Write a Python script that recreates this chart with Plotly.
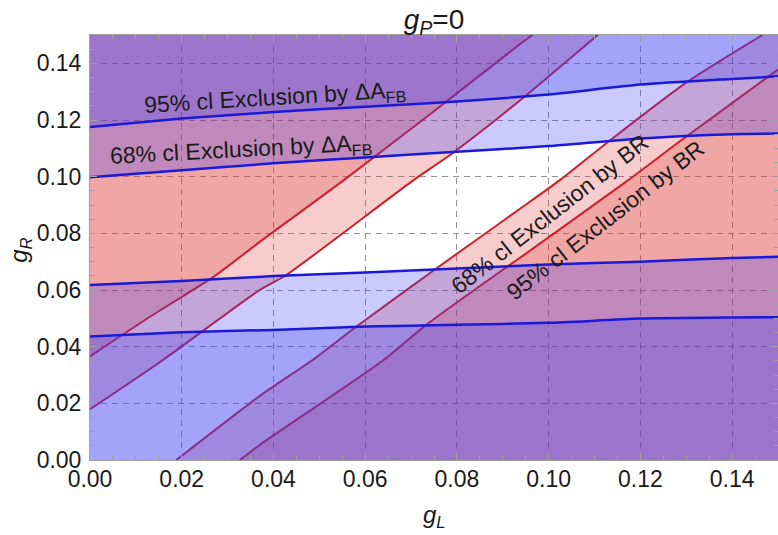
import plotly.graph_objects as go

# g_L sample points used for the A_FB contours
gl_afb = [0.0, 0.02, 0.04, 0.06, 0.08, 0.10, 0.12, 0.14, 0.15]

# Delta A_FB exclusion contours (g_R as a function of g_L)
afb95_upper = [0.1175, 0.1205, 0.1228, 0.1247, 0.1265, 0.1290, 0.1325, 0.1345, 0.1354]
afb68_upper = [0.0998, 0.1023, 0.1047, 0.1068, 0.1088, 0.1108, 0.1135, 0.1150, 0.1152]
afb68_lower = [0.0618, 0.0632, 0.0649, 0.0662, 0.0676, 0.0690, 0.0700, 0.0713, 0.0717]
afb95_lower = [0.0436, 0.0451, 0.0459, 0.0471, 0.0477, 0.0484, 0.0499, 0.0503, 0.0504]

# BR exclusion contours as (g_L, g_R) point lists
br95_upper_gl = [0.0, 0.0135, 0.027, 0.037, 0.0552, 0.0745, 0.0936, 0.0965]
br95_upper_gr = [0.0366, 0.0510, 0.0647, 0.0770, 0.0986, 0.1225, 0.1466, 0.15]

br68_upper_gl = [0.0, 0.016, 0.037, 0.0428, 0.0704, 0.0788, 0.0936, 0.1107]
br68_upper_gr = [0.0179, 0.0354, 0.0600, 0.0653, 0.0986, 0.1080, 0.1267, 0.15]

br68_lower_gl = [0.0188, 0.037, 0.0486, 0.0581, 0.0755, 0.0936, 0.1023, 0.1132, 0.1299, 0.1466]
br68_lower_gr = [0.0, 0.0226, 0.0354, 0.0471, 0.0676, 0.0885, 0.0986, 0.1126, 0.1331, 0.15]

br95_lower_gl = [0.0327, 0.037, 0.0641, 0.0733, 0.0911, 0.0936, 0.1172, 0.1292, 0.15]
br95_lower_gr = [0.0, 0.0053, 0.0354, 0.0477, 0.0684, 0.0712, 0.0986, 0.1132, 0.1378]

tick_vals = [0.0, 0.02, 0.04, 0.06, 0.08, 0.10, 0.12, 0.14]
tick_text = ["0.00", "0.02", "0.04", "0.06", "0.08", "0.10", "0.12", "0.14"]

LO, HI = 0.0, 0.15
FONT = "Liberation Sans, Arial, Helvetica, sans-serif"
RED_FILL = "rgba(225,50,50,0.25)"
BLUE_FILL = "rgba(60,60,245,0.27)"
RED_LINE = "rgb(205,30,45)"
BLUE_LINE = "rgb(25,25,215)"

fig = go.Figure()


def fill(xs, ys, color):
    fig.add_trace(go.Scatter(x=xs, y=ys, mode="lines", fill="toself",
                             fillcolor=color, line=dict(width=0),
                             hoverinfo="skip", showlegend=False))


def curve(xs, ys, color, width):
    fig.add_trace(go.Scatter(x=xs, y=ys, mode="lines",
                             line=dict(color=color, width=width, shape="spline", smoothing=0.6),
                             hoverinfo="skip", showlegend=False))


# BR excluded regions (outside the band between the contours)
fill(br95_upper_gl + [LO], br95_upper_gr + [HI], RED_FILL)
fill(br95_lower_gl + [HI], br95_lower_gr + [LO], RED_FILL)
fill(br68_upper_gl + [LO], br68_upper_gr + [HI], RED_FILL)
fill(br68_lower_gl + [HI, HI], br68_lower_gr + [HI, LO], RED_FILL)

for xs, ys in [(br95_upper_gl, br95_upper_gr), (br68_upper_gl, br68_upper_gr),
               (br68_lower_gl, br68_lower_gr), (br95_lower_gl, br95_lower_gr)]:
    curve(xs, ys, RED_LINE, 2)

# Delta A_FB excluded regions
fill(gl_afb + [HI, LO], afb95_upper + [HI, HI], BLUE_FILL)
fill(gl_afb + [HI, LO], afb95_lower + [LO, LO], BLUE_FILL)
fill(gl_afb + [HI, LO], afb68_upper + [HI, HI], BLUE_FILL)
fill(gl_afb + [HI, LO], afb68_lower + [LO, LO], BLUE_FILL)

for ys in [afb95_upper, afb68_upper, afb68_lower, afb95_lower]:
    curve(gl_afb, ys, BLUE_LINE, 2.5)

axis_common = dict(
    range=[LO, HI], tickvals=tick_vals, ticktext=tick_text,
    showgrid=True, gridcolor="rgba(110,110,110,0.75)", gridwidth=1, griddash="6px,5px",
    zeroline=False, showline=True, linecolor="#a0a0a0", linewidth=1, mirror="ticks",
    ticks="inside", ticklen=7, tickcolor="#a0a0a0",
    minor=dict(dtick=0.005, ticks="inside", ticklen=4, tickcolor="#a0a0a0", showgrid=False),
    tickfont=dict(family=FONT, size=23, color="#1a1a1a"),
)

fig.update_layout(
    width=778, height=535,
    margin=dict(l=90, r=0, t=35, b=75),
    paper_bgcolor="white", plot_bgcolor="white",
    xaxis=dict(**axis_common, ticklabelstandoff=-2),
    yaxis=dict(**axis_common, ticklabelstandoff=3),
    title=dict(text="<i>g</i><sub><i>P</i></sub>=0", x=0.5, xref="paper", xanchor="center",
               y=1 - 19 / 535, yref="container", yanchor="middle",
               font=dict(family=FONT, size=28, color="#1a1a1a")),
)

label_font = dict(family=FONT, size=23, color="#1a1a1a")
axis_font = dict(family=FONT, size=24, color="#1a1a1a")
annotations = [
    dict(text="<i>g</i><sub><i>L</i></sub>", xref="paper", yref="paper",
         x=0.5, y=-0.132, xanchor="center", yanchor="middle",
         showarrow=False, font=axis_font),
    dict(text="<i>g</i><sub><i>R</i></sub>", xref="paper", yref="paper",
         x=-0.102, y=0.494, xanchor="center", yanchor="middle",
         showarrow=False, textangle=-90, font=axis_font),
    dict(text="95% cl Exclusion by \u0394A<sub>FB</sub>", xref="x", yref="y",
         x=0.0403, y=0.1275, showarrow=False, textangle=-3.5, font=label_font),
    dict(text="68% cl Exclusion by \u0394A<sub>FB</sub>", xref="x", yref="y",
         x=0.0329, y=0.1091, showarrow=False, textangle=-3, font=label_font),
    dict(text="68% cl Exclusion by BR", xref="x", yref="y",
         x=0.1002, y=0.0870, showarrow=False, textangle=-38, font=label_font),
    dict(text="95% cl Exclusion by BR", xref="x", yref="y",
         x=0.1124, y=0.0846, showarrow=False, textangle=-38, font=label_font),
]
fig.update_layout(annotations=annotations)

fig.write_html("out.html")
